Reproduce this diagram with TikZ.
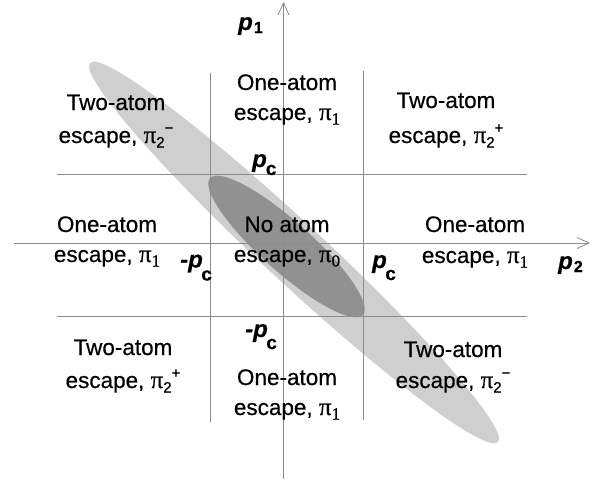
\documentclass[tikz,border=0pt]{standalone}
\usepackage{fontspec}
\setmainfont{Liberation Sans}[FakeBold=0.5]
\newfontfamily\regfont{Liberation Sans}[FakeBold=0.45]
\newfontfamily\serifpi{Liberation Serif}[FakeBold=0.6]
\usetikzlibrary{arrows.meta}
\definecolor{linegray}{gray}{0.55}
\definecolor{lightell}{gray}{0.81}
\definecolor{darkell}{gray}{0.57}
% pi with subscript and superscript
\newcommand\pisf[2]{{\fontsize{25}{25}\serifpi π}\raisebox{-4.5pt}{\fontsize{15}{15}\selectfont #1}\raisebox{10pt}{\fontsize{15}{15}\selectfont #2}}
\newcommand\pisr[1]{{\fontsize{25}{25}\serifpi π}\raisebox{-4.5pt}{\fontsize{17}{17}\serifpi #1}}
% region label: two lines, gap added to 30pt
\newcommand\reglab[3]{\begin{tabular}[t]{@{}c@{}}#1\\[#3]#2\end{tabular}}
% momentum label
\newcommand\plab[4]{{\bfseries\itshape #1p}\kern#4\raisebox{-#3}{\fontsize{19}{19}\bfseries #2}}
\tikzset{
  gridline/.style={draw=linegray, line width=0.8pt},
  axisline/.style={draw=linegray, line width=0.8pt, -{Straight Barb[length=12pt,width=11pt]}},
  region/.style={anchor=base, inner sep=0pt, font=\fontsize{22.5}{30}\regfont},
  plabel/.style={anchor=base west, inner sep=0pt, font=\fontsize{24}{24}\selectfont}
}
\begin{document}
\begin{tikzpicture}[x=1pt, y=-1pt]
\useasboundingbox (0,0) rectangle (601,479);
% ellipses
\begin{scope}[shift={(294,252.5)}, rotate=-42.9]
  \fill[lightell] (0,0) ellipse [x radius=278.5pt, y radius=30pt];
\end{scope}
\begin{scope}[shift={(286.5,246.5)}, rotate=-41.8]
  \fill[darkell] (0,0) ellipse [x radius=102.5pt, y radius=25pt];
\end{scope}
% grid
\coordinate (vl1t) at (210,73);  \coordinate (vl1b) at (210,422);
\coordinate (vl2t) at (363,71);  \coordinate (vl2b) at (363,420);
\coordinate (hl1l) at (57,174);  \coordinate (hl1r) at (527,174);
\coordinate (hl2l) at (57,316);  \coordinate (hl2r) at (527,316);
\draw[gridline] (vl1t) -- (vl1b);
\draw[gridline] (vl2t) -- (vl2b);
\draw[gridline] (hl1l) -- (hl1r);
\draw[gridline] (hl2l) -- (hl2r);
% axes
\coordinate (xs) at (14,243);   \coordinate (xe) at (590,243);
\coordinate (ys) at (283.5,479); \coordinate (ye) at (283.5,2);
\draw[axisline] (xs) -- (xe);
\draw[axisline] (ys) -- (ye);
% region labels
\node[region] (tl) at (116,110) {\reglab{Two-atom}{escape, \pisf{2}{−}}{3pt}};
\node[region] (tm) at (287,90)  {\reglab{One-atom}{escape, \pisr{1}}{0pt}};
\node[region] (tr) at (446,108) {\reglab{Two-atom}{escape, \pisf{2}{+}}{5pt}};
\node[region] (ml) at (107,232) {\reglab{One-atom}{escape, \pisr{1}}{0pt}};
\node[region] (mc) at (287,232) {\reglab{No atom}{escape, \pisr{0}}{0pt}};
\node[region] (mr) at (475,232) {\reglab{One-atom}{escape, \pisr{1}}{1pt}};
\node[region] (bl) at (123,355) {\reglab{Two-atom}{escape, \pisf{2}{+}}{3pt}};
\node[region] (bm) at (287,385) {\reglab{One-atom}{escape, \pisr{1}}{0pt}};
\node[region] (br) at (453,357) {\reglab{Two-atom}{escape, \pisf{2}{−}}{1pt}};
% momentum labels
\node[plabel] (p1) at (238,30) {{\bfseries\itshape p}\kern1pt\raisebox{-3pt}{\fontsize{16}{16}\selectfont\bfseries 1}};
\node[plabel] (p2) at (558,269) {{\bfseries\itshape p}\kern1pt\raisebox{-3pt}{\fontsize{16}{16}\selectfont\bfseries 2}};
\node[plabel] (pcu) at (252,167) {\plab{}{c}{8pt}{-1pt}};
\node[plabel] (pcr) at (372,268) {\plab{}{c}{12pt}{-1.5pt}};
\node[plabel] (mpcl) at (180,267.5) {\plab{-}{c}{13pt}{-1.5pt}};
\node[plabel] (mpcd) at (245,337) {\plab{-}{c}{12pt}{-1.5pt}};
\end{tikzpicture}
\end{document}
